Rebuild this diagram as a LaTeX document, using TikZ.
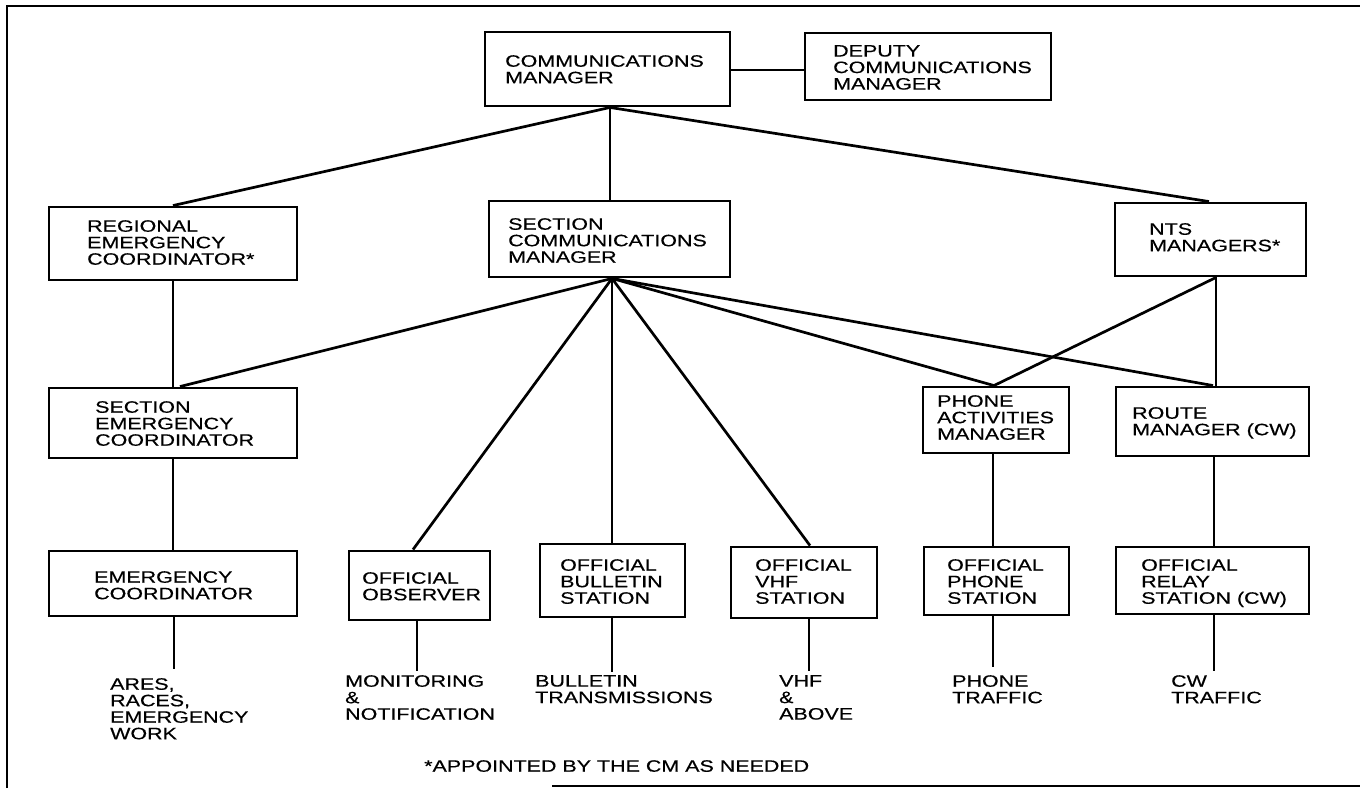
\documentclass[tikz,border=0pt]{standalone}
\usepackage{fontspec}
\newfontfamily\chartfont{Liberation Sans}[FakeStretch=1.3,FakeBold=0.4]
% box: name, x1, y1, x2, y2, text x, first baseline, text
\newcommand\orgbox[8]{%
  \node[box, minimum width={#4-#2}, minimum height={#5-#3}] (#1) at ({(#2+#4)/2},{(#3+#5)/2}) {};
  \node[boxtext] (#1-t) at (#6,{#7-12}) {#8};
}
\begin{document}
\begin{tikzpicture}[x=1pt,y=-1pt,
  box/.style={draw, line width=2.9pt, inner sep=0pt},
  boxtext/.style={anchor=north west, align=left, inner sep=0pt,
    font=\chartfont\fontsize{16.5}{16.5}\selectfont},
  link/.style={line width=2.7pt},
  thinlink/.style={line width=2.1pt},
  frame/.style={line width=1.8pt}]
\useasboundingbox (0,0) rectangle (1360,788);

% frame
\draw[frame] (7,788) -- (7,6) -- (1360,6);
\draw[frame] (552,786) -- (1360,786);

% boxes
\orgbox{cm}{485}{32}{730}{106}{505}{67}{COMMUNICATIONS\\MANAGER}
\orgbox{dep}{805}{33}{1051}{100}{833}{57}{DEPUTY\\COMMUNICATIONS\\MANAGER}
\orgbox{rec}{49}{207}{297}{280}{87}{232}{REGIONAL\\EMERGENCY\\COORDINATOR*}
\orgbox{scm}{489}{201}{730}{277}{508}{230}{SECTION\\COMMUNICATIONS\\MANAGER}
\orgbox{nts}{1115}{203}{1306}{276}{1149}{235}{NTS\\MANAGERS*}
\orgbox{sec}{49}{388}{297}{458}{95}{413}{SECTION\\EMERGENCY\\COORDINATOR}
\orgbox{pam}{923}{387}{1069}{453}{937}{407}{PHONE\\ACTIVITIES\\MANAGER}
\orgbox{rm}{1116}{387}{1309}{456}{1132}{419}{ROUTE\\MANAGER (CW)}
\orgbox{ec}{49}{551}{297}{616}{94}{583}{EMERGENCY\\COORDINATOR}
\orgbox{oo}{349}{551}{490}{620}{362}{584}{OFFICIAL\\OBSERVER}
\orgbox{obs}{540}{544}{685}{617}{560}{571}{OFFICIAL\\BULLETIN\\STATION}
\orgbox{ovhf}{731}{547}{877}{618}{755}{571}{OFFICIAL\\VHF\\STATION}
\orgbox{ops}{924}{547}{1069}{615}{947}{571}{OFFICIAL\\PHONE\\STATION}
\orgbox{ors}{1116}{547}{1309}{614}{1141}{571}{OFFICIAL\\RELAY\\STATION (CW)}

% activity labels under the bottom row
\node[boxtext] (ares) at (110,678) {ARES,\\RACES,\\EMERGENCY\\WORK};
\node[boxtext] (mon) at (345,675) {MONITORING\\\&\\NOTIFICATION};
\node[boxtext] (bul) at (535,675) {BULLETIN\\TRANSMISSIONS};
\node[boxtext] (vhf) at (779,675) {VHF\\\&\\ABOVE};
\node[boxtext] (phone) at (952,675) {PHONE\\TRAFFIC};
\node[boxtext] (cw) at (1171,675) {CW\\TRAFFIC};
\node[boxtext] (note) at (424,760) {*APPOINTED BY THE CM AS NEEDED};

% stub ends above the labels
\coordinate (aresend) at (174,669);
\coordinate (monend) at (417,671);
\coordinate (bulend) at (612,672);
\coordinate (vhfend) at (809,671);
\coordinate (phoneend) at (993,667);
\coordinate (cwend) at (1214,671);

% communications manager
\draw[link] ([xshift=2.5pt]cm.south) -- (rec.north);
\draw[link] ([xshift=2.5pt]cm.south) -- ([xshift=0.5pt]scm.north);
\draw[link] ([xshift=2.5pt]cm.south) -- ([xshift=-1.5pt]nts.north);
\draw[link] (cm.east |- 0,70) -- (dep.west |- 0,70);

% section communications manager
\draw[link] ([xshift=2.5pt]scm.south) -- ([xshift=7pt]sec.north);
\draw[link] ([xshift=2.5pt]scm.south) -- ([xshift=-6.5pt]oo.north);
\draw[link] ([xshift=2.5pt]scm.south) -- ([xshift=-0.5pt]obs.north);
\draw[link] ([xshift=2.5pt]scm.south) -- ([xshift=6pt]ovhf.north);
\draw[link] ([xshift=2.5pt]scm.south) -- ([xshift=-2pt]pam.north);
\draw[link] ([xshift=2.5pt]scm.south) -- ([xshift=0.5pt]rm.north);

% NTS managers
\draw[link] ([xshift=5.5pt]nts.south) -- ([xshift=-2pt]pam.north);
\draw[thinlink] ([xshift=5.5pt]nts.south) -- ([xshift=3.5pt]rm.north);

% vertical chains
\draw[thinlink] (rec.south) -- (sec.north);
\draw[thinlink] (sec.south) -- (ec.north);
\draw[thinlink] ([xshift=-3pt]pam.south) -- ([xshift=-3.5pt]ops.north);
\draw[thinlink] ([xshift=1.5pt]rm.south) -- ([xshift=1.5pt]ors.north);

% stubs to activity labels
\draw[link] (ec.south -| aresend) -- (aresend);
\draw[thinlink] (oo.south -| monend) -- (monend);
\draw[link] (obs.south -| bulend) -- (bulend);
\draw[link] (ovhf.south -| vhfend) -- (vhfend);
\draw[thinlink] (ops.south -| phoneend) -- (phoneend);
\draw[link] (ors.south -| cwend) -- (cwend);
\end{tikzpicture}
\end{document}
